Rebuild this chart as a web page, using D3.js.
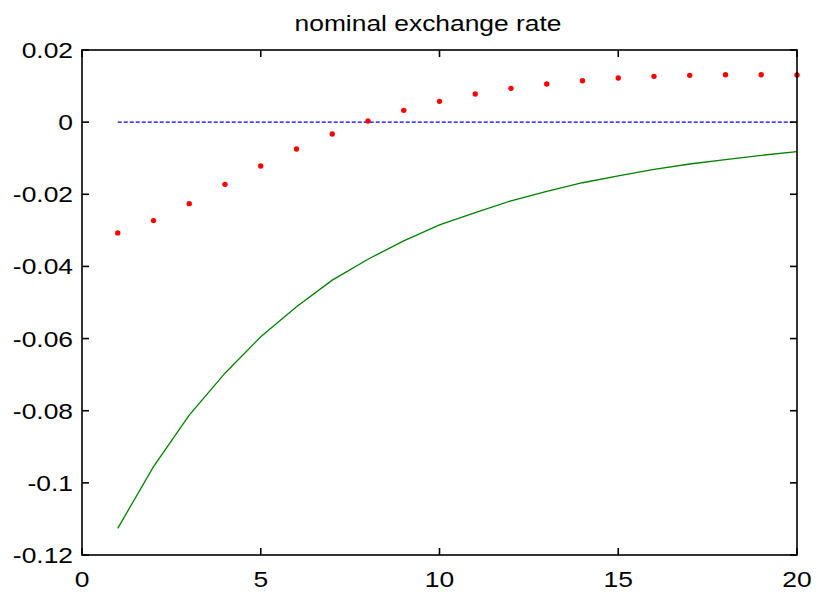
<!DOCTYPE html>
<html>
<head>
<meta charset="utf-8">
<script src="https://cdn.jsdelivr.net/npm/d3@7"></script>
<style>
  html, body { margin: 0; padding: 0; background: #fff; }
  svg { display: block; }
  text { font-family: "Liberation Sans", Arial, sans-serif; fill: #000; }
</style>
</head>
<body>
<svg id="chart" width="816" height="596"></svg>
<script>
// Impulse response horizon
const periods = d3.range(1, 21);

// Response paths
const dotted = [-0.0307, -0.0273, -0.0226, -0.01725, -0.01217, -0.00746, -0.0033, 0.0003, 0.00327, 0.00577,
                0.00779, 0.00937, 0.01056, 0.01148, 0.01223, 0.0127, 0.01297, 0.01314, 0.01314, 0.01306];
const solid = [-0.1126, -0.0955, -0.0812, -0.0696, -0.0595, -0.0512, -0.0438, -0.0380, -0.0329, -0.0285,
               -0.0251, -0.0218, -0.0192, -0.0168, -0.0149, -0.0131, -0.0116, -0.0104, -0.0092, -0.0082];
const baseline = periods.map(() => 0);

// Axis ticks
const xTicks = [0, 5, 10, 15, 20];
const yTicks = [-0.12, -0.1, -0.08, -0.06, -0.04, -0.02, 0, 0.02];
const yTickLabels = ["-0.12", "-0.1", "-0.08", "-0.06", "-0.04", "-0.02", "0", "0.02"];
const title = "nominal exchange rate";

const svg = d3.select("#chart");
const plotL = 82, plotR = 797, plotT = 50, plotB = 555;
const x = d3.scaleLinear().domain([0, 20]).range([plotL, plotR]);
const y = d3.scaleLinear().domain([-0.12, 0.02]).range([plotB, plotT]);

const fontSize = 22, stretch = 1.2;

// Horizontal baseline
svg.append("path")
  .datum(periods.map((p, i) => [p, baseline[i]]))
  .attr("fill", "none")
  .attr("stroke", "#0000ff")
  .attr("stroke-width", 1.3)
  .attr("stroke-dasharray", "4,2")
  .attr("d", d3.line().x(d => x(d[0])).y(d => y(d[1])));

// Solid green response
svg.append("path")
  .datum(periods.map((p, i) => [p, solid[i]]))
  .attr("fill", "none")
  .attr("stroke", "#008000")
  .attr("stroke-width", 1.3)
  .attr("d", d3.line().x(d => x(d[0])).y(d => y(d[1])));

// Dotted red response
svg.append("g").selectAll("circle")
  .data(periods.map((p, i) => [p, dotted[i]]))
  .join("circle")
  .attr("cx", d => x(d[0]))
  .attr("cy", d => y(d[1]))
  .attr("r", 2.7)
  .attr("fill", "#ff0000");

// Axes box with inward ticks on all sides
const tl = 7;
const axisG = svg.append("g").attr("stroke", "#000").attr("stroke-width", 1.6).attr("fill", "none");
axisG.append("rect").attr("x", plotL).attr("y", plotT).attr("width", plotR - plotL).attr("height", plotB - plotT);
xTicks.forEach(t => {
  axisG.append("line").attr("x1", x(t)).attr("x2", x(t)).attr("y1", plotB).attr("y2", plotB - tl);
  axisG.append("line").attr("x1", x(t)).attr("x2", x(t)).attr("y1", plotT).attr("y2", plotT + tl);
});
yTicks.forEach(t => {
  axisG.append("line").attr("x1", plotL).attr("x2", plotL + tl).attr("y1", y(t)).attr("y2", y(t));
  axisG.append("line").attr("x1", plotR).attr("x2", plotR - tl).attr("y1", y(t)).attr("y2", y(t));
});

// Tick labels
function label(tx, ty, str, anchor) {
  svg.append("text")
    .attr("transform", `translate(${tx},${ty}) scale(${stretch},1)`)
    .attr("text-anchor", anchor)
    .attr("font-size", fontSize)
    .text(str);
}
xTicks.forEach(t => label(x(t), 587, String(t), "middle"));
yTicks.forEach((t, i) => label(plotL - 9, y(t) + 8, yTickLabels[i], "end"));

// Title
label(428, 31, title, "middle");
</script>
</body>
</html>
